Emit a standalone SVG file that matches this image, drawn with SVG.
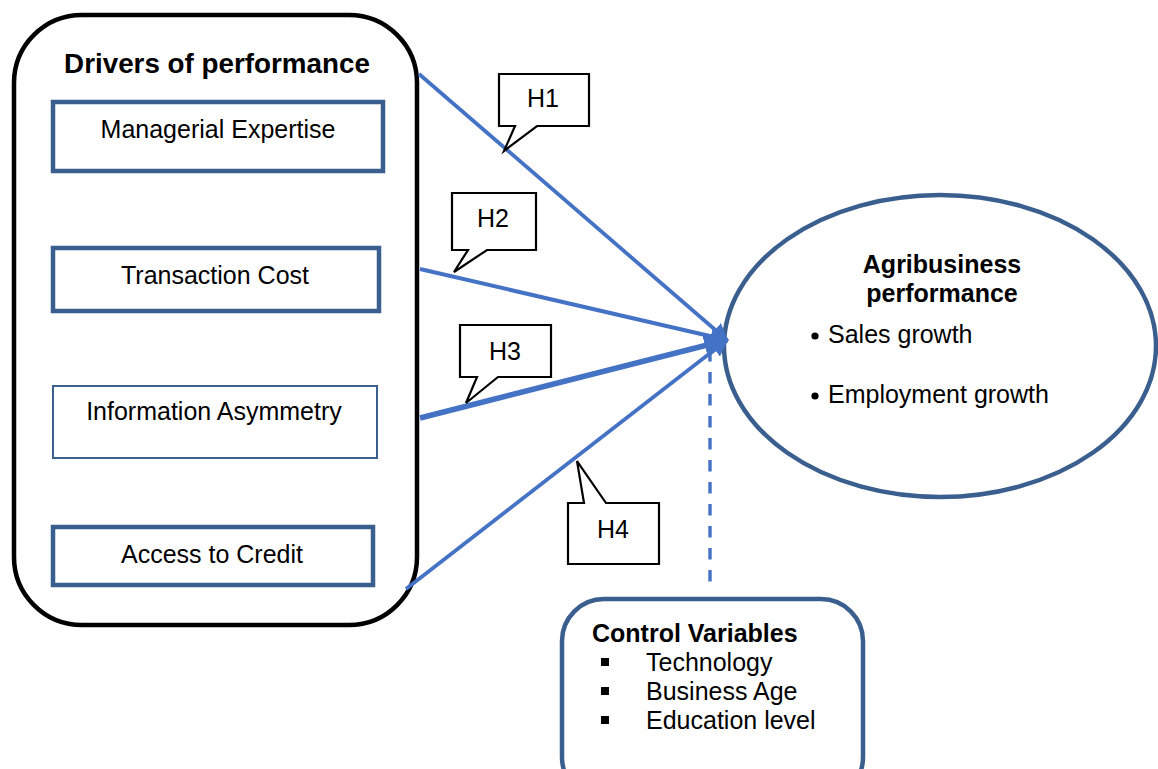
<svg xmlns="http://www.w3.org/2000/svg" width="1158" height="769" viewBox="0 0 1158 769">
  <defs>
    <style>
      text { font-family: "Liberation Sans", Arial, sans-serif; fill: #000; }
      .bold { font-weight: bold; }
      .lbl { font-size: 25px; }
      .var { fill: #fff; stroke: #3A5F8E; stroke-width: 4.5; }
      .var-thin { fill: #fff; stroke: #3A5F8E; stroke-width: 2; }
      .link { stroke: #4472C4; fill: none; marker-end: url(#head); }
      .call { fill: #fff; stroke: #000; stroke-width: 2.2; stroke-linejoin: miter; }
    </style>
    <marker id="head" viewBox="0 0 10 10" refX="9" refY="5" markerWidth="4.6" markerHeight="4.6" orient="auto" markerUnits="strokeWidth">
      <path d="M0,0 L10,5 L0,10 z" fill="#4472C4"/>
    </marker>
  </defs>

  <rect width="1158" height="769" fill="#fff"/>

  <!-- drivers container -->
  <g id="drivers">
    <rect x="14" y="15" width="403" height="610" rx="68" ry="68" fill="#fff" stroke="#000" stroke-width="4.5"/>
    <text class="bold" x="217" y="73" font-size="27.8" text-anchor="middle">Drivers of performance</text>
  </g>

  <g id="managerial-expertise">
    <rect class="var" x="53" y="102" width="330" height="69"/>
    <text class="lbl" x="218" y="138" text-anchor="middle">Managerial Expertise</text>
  </g>

  <g id="transaction-cost">
    <rect class="var" x="53" y="248" width="326" height="63"/>
    <text class="lbl" x="215" y="284" text-anchor="middle">Transaction Cost</text>
  </g>

  <g id="information-asymmetry">
    <rect class="var-thin" x="53" y="386" width="324" height="72"/>
    <text class="lbl" x="214" y="420" text-anchor="middle">Information Asymmetry</text>
  </g>

  <g id="access-to-credit">
    <rect class="var" x="53" y="527" width="320" height="58"/>
    <text class="lbl" x="212" y="563" text-anchor="middle">Access to Credit</text>
  </g>

  <!-- outcome -->
  <g id="agribusiness-performance">
    <ellipse cx="940" cy="346" rx="216" ry="151" fill="#fff" stroke="#3A5F8E" stroke-width="4.5"/>
    <text class="bold" x="942" y="273" font-size="25" text-anchor="middle">Agribusiness</text>
    <text class="bold" x="942" y="302" font-size="25" text-anchor="middle">performance</text>
    <circle cx="815" cy="336" r="3.6" fill="#000"/>
    <text class="lbl" x="828" y="343">Sales growth</text>
    <circle cx="815" cy="396" r="3.6" fill="#000"/>
    <text class="lbl" x="828" y="403">Employment growth</text>
  </g>

  <!-- control variables -->
  <g id="control-variables">
    <rect x="562" y="599" width="301" height="200" rx="42" ry="42" fill="#fff" stroke="#3A5F8E" stroke-width="4.5"/>
    <text class="bold" x="592" y="642" font-size="25">Control Variables</text>
    <rect x="601" y="658" width="8" height="8" fill="#000"/>
    <text class="lbl" x="646" y="671">Technology</text>
    <rect x="601" y="687" width="8" height="8" fill="#000"/>
    <text class="lbl" x="646" y="700">Business Age</text>
    <rect x="601" y="716" width="8" height="8" fill="#000"/>
    <text class="lbl" x="646" y="729">Education level</text>
  </g>

  <!-- connectors -->
  <g id="connectors">
    <line class="link" x1="419" y1="74" x2="727" y2="340" stroke-width="3.8"/>
    <line class="link" x1="420" y1="269" x2="727" y2="340" stroke-width="4"/>
    <line class="link" x1="420" y1="418" x2="727" y2="340" stroke-width="5.5"/>
    <line class="link" x1="406" y1="589" x2="727" y2="340" stroke-width="3.8"/>
    <line x1="710" y1="350" x2="710" y2="590" stroke="#4472C4" stroke-width="3.4" stroke-dasharray="11.5 10.5"/>
  </g>

  <!-- hypothesis callouts -->
  <g id="h1">
    <path class="call" d="M499,74 H589 V126 H537 L504,151 L515,126 H499 Z"/>
    <text class="lbl" x="543" y="107" text-anchor="middle">H1</text>
  </g>
  <g id="h2">
    <path class="call" d="M452,193 H536 V250 H487 L454,272 L468,250 H452 Z"/>
    <text class="lbl" x="493" y="227" text-anchor="middle">H2</text>
  </g>
  <g id="h3">
    <path class="call" d="M460,325 H551 V377 H498 L466,403 L477,377 H460 Z"/>
    <text class="lbl" x="505" y="360" text-anchor="middle">H3</text>
  </g>
  <g id="h4">
    <path class="call" d="M568,503 H584 L577,461 L606,503 H659 V564 H568 Z"/>
    <text class="lbl" x="613" y="538" text-anchor="middle">H4</text>
  </g>
</svg>
